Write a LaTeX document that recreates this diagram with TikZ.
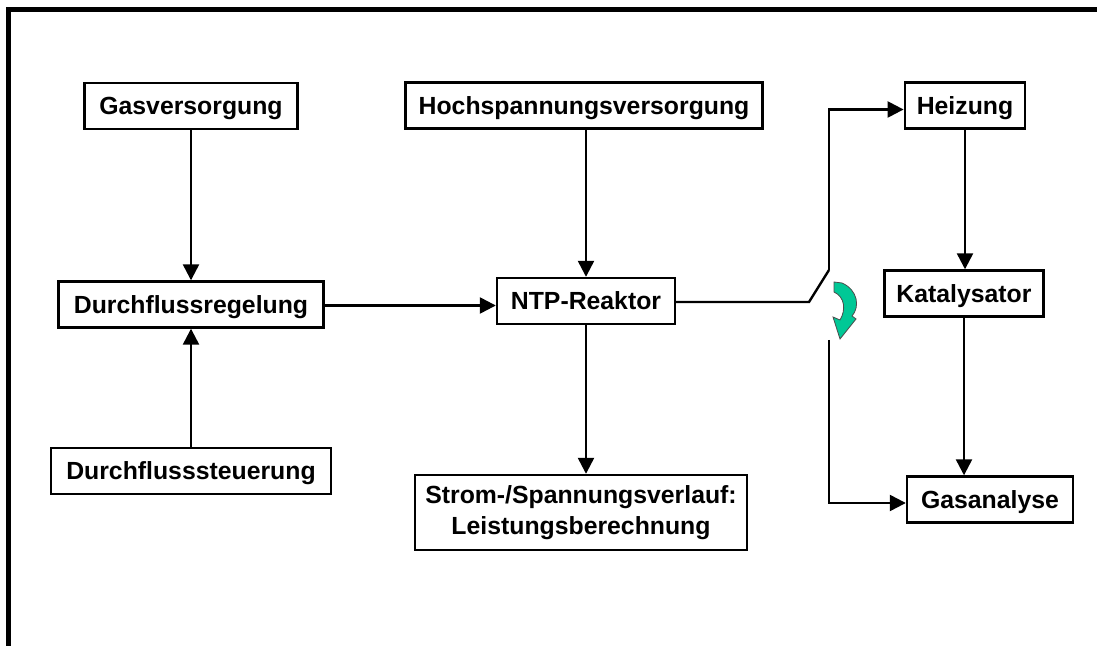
\documentclass[tikz,border=0pt]{standalone}
\usepackage{fontspec}
\setmainfont{Liberation Sans}
\usetikzlibrary{arrows.meta}
\definecolor{tuerkis}{RGB}{0,200,150}
\begin{document}
\begin{tikzpicture}[x=0.5pt,y=-0.5pt,
    font=\fontsize{12.4}{15}\selectfont\bfseries,
    blocco/.style={draw, line width=1.2pt, minimum height=23pt, inner xsep=6pt,
        text height=9pt, text depth=-0.5pt, align=center},
    freccia/.style={line width=1.2pt, -{Triangle[length=8pt,width=8pt]}}]

        % Area del disegno
        \useasboundingbox (0,0) rectangle (1097,646);

        % Cornice (solo lato sinistro e superiore)
        \draw[line width=2.5pt] (1100,9.5) -- (8.5,9.5) -- (8.5,650);

        % Blocchi a sinistra
        \node[blocco, minimum width=106.5pt] (gas) at (191,106) {Gasversorgung};
        \node[blocco, minimum width=132.5pt] (regel) at (191,304.5) {Durchflussregelung};
        \node[blocco, minimum width=140pt] (steuer) at (191,471) {Durchflusssteuerung};

        % Blocchi al centro
        \node[blocco, minimum width=178.5pt] (hv) at (584,105.5) {Hochspannungsversorgung};
        \node[blocco, minimum width=89pt] (ntp) at (586,301) {NTP-Reaktor};
        \node[blocco, inner xsep=3pt, minimum width=166pt, minimum height=37.5pt, text height=, text depth=]
            (strom) at (581,512.5) {\raisebox{-4pt}{\parbox{160pt}{\centering\baselineskip=15.5pt
                Strom-/Spannungsverlauf:\\Leistungsberechnung}}};

        % Blocchi a destra
        \node[blocco, minimum width=60pt] (heiz) at (965,105.5) {Heizung};
        \node[blocco, minimum width=76pt] (kat) at (964,293.5) {Katalysator};
        \node[blocco, minimum width=83pt] (ana) at (990,499.5) {Gasanalyse};

        % Frecce verticali
        \draw[freccia] (gas) -- (regel);
        \draw[freccia] (steuer) -- (regel);
        \draw[freccia] (hv.south -| ntp) -- (ntp);
        \draw[freccia] (ntp.south) -- (ntp.south |- strom.north);
        \draw[freccia] (heiz.south) -- (heiz.south |- kat.north);
        \draw[freccia] (kat.south) -- (kat.south |- ana.north);

        % Freccia orizzontale verso il reattore
        \draw[freccia] ([yshift=-0.5pt]regel.east) -- ([yshift=-0.5pt]regel.east -| ntp.west);

        % Commutatore
        \coordinate (sw1) at (809,302);
        \coordinate (sw2) at (829,270);
        \coordinate (sw3) at (829,340);
        \draw[line width=1.2pt, line join=miter] (ntp.east |- sw1) -- (sw1) -- (sw2);
        \draw[freccia] (sw2) |- ([yshift=-2pt]heiz.west);
        \draw[freccia] (sw3) |- ([yshift=-1.75pt]ana.west);

        % Freccia curva verde
        \filldraw[fill=tuerkis, draw=black!70, line width=0.4pt]
            (834,282) -- (842,283) .. controls (858,290) and (860,307) .. (852,316)
            -- (856,319) -- (840,339) -- (833,317) -- (840,320)
            .. controls (846,310) and (845,297) .. (834,292) -- cycle;

    \end{tikzpicture}
\end{document}
